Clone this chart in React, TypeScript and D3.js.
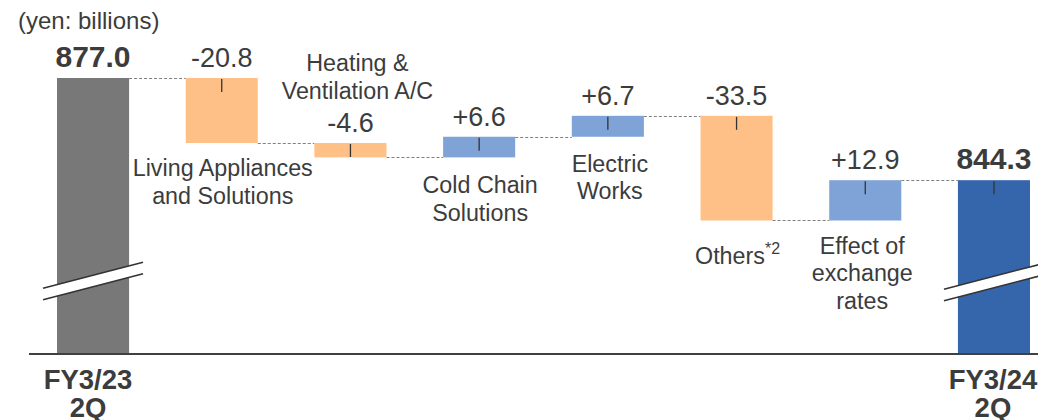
import React from "react";
import * as d3 from "d3";

const categories = [
  "FY3/23 2Q",
  "Living Appliances and Solutions",
  "Heating & Ventilation A/C",
  "Cold Chain Solutions",
  "Electric Works",
  "Others",
  "Effect of exchange rates",
  "FY3/24 2Q",
];
const startValue = 877.0;
const deltas = [-20.8, -4.6, 6.6, 6.7, -33.5, 12.9];
const endValue = 844.3;
const valueLabels = ["877.0", "-20.8", "-4.6", "+6.6", "+6.7", "-33.5", "+12.9", "844.3"];
const categoryLines: string[][] = [
  ["FY3/23", "2Q"],
  ["Living Appliances", "and Solutions"],
  ["Heating &", "Ventilation A/C"],
  ["Cold Chain", "Solutions"],
  ["Electric", "Works"],
  ["Others"],
  ["Effect of", "exchange", "rates"],
  ["FY3/24", "2Q"],
];
const unitLabel = "(yen: billions)";
const othersNote = "*2";

const W = 1038;
const H = 420;
const FONT = "'Liberation Sans', Arial, Helvetica, sans-serif";
const TEXT = "#3c3c3c";

type Bar = { key: string; lo: number; hi: number; kind: "total" | "neg" | "pos" | "end"; after: number };

export default function App() {
  const bars: Bar[] = [];
  bars.push({ key: categories[0], lo: 789, hi: startValue, kind: "total", after: startValue });
  let run = startValue;
  deltas.forEach((d, i) => {
    const next = run + d;
    bars.push({
      key: categories[i + 1],
      lo: Math.min(run, next),
      hi: Math.max(run, next),
      kind: d < 0 ? "neg" : "pos",
      after: next,
    });
    run = next;
  });
  bars.push({ key: categories[7], lo: 789, hi: endValue, kind: "end", after: endValue });

  const x = d3.scaleBand<string>().domain(categories).range([57, 1030]).paddingInner(0.44).paddingOuter(0);
  const y = d3.scaleLinear().domain([789, 877]).range([353, 78]);
  const bw = x.bandwidth();
  const color = { total: "#787878", neg: "#FFC088", pos: "#7FA3D7", end: "#3566AB" } as const;

  const layout: { dx: number; mode: "below" | "above" | "axis"; off: number }[] = [
    { dx: -5, mode: "axis", off: 35 },
    { dx: 1, mode: "below", off: 33 },
    { dx: 7, mode: "above", off: 72 },
    { dx: 1, mode: "below", off: 36 },
    { dx: 2, mode: "below", off: 35 },
    { dx: 1, mode: "below", off: 43 },
    { dx: -3, mode: "below", off: 33 },
    { dx: -1, mode: "axis", off: 35 },
  ];
  const lineH = 27.5;

  const breakMark = (cx: number, cy: number) => {
    const half = 50;
    const slope = -0.26;
    const gap = 11.5;
    const x0 = cx - half, x1 = cx + half;
    const y0 = cy - half * slope, y1 = cy + half * slope;
    return (
      <g>
        <polygon points={`${x0},${y0 - gap / 2} ${x1},${y1 - gap / 2} ${x1},${y1 + gap / 2} ${x0},${y0 + gap / 2}`} fill="#fff" />
        <line x1={x0} y1={y0 - gap / 2} x2={x1} y2={y1 - gap / 2} stroke="#333" strokeWidth={1.6} />
        <line x1={x0} y1={y0 + gap / 2} x2={x1} y2={y1 + gap / 2} stroke="#333" strokeWidth={1.6} />
      </g>
    );
  };

  return (
    <svg width={W} height={H} style={{ position: "absolute", left: 0, top: 0, background: "#fff" }} fontFamily={FONT}>
      <text x={18} y={29} fontSize={24} fill={TEXT}>{unitLabel}</text>
      {bars.slice(0, -1).map((b, i) => {
        const x1 = (x(b.key) as number) + bw;
        const x2 = x(bars[i + 1].key) as number;
        const yy = Math.round(y(b.after)) + 0.5;
        return <line key={"c" + i} x1={x1} x2={x2} y1={yy} y2={yy} stroke="#7f7f7f" strokeWidth={1} strokeDasharray="3,2" />;
      })}
      {bars.map((b, i) => {
        const x0 = x(b.key) as number;
        const cx = x0 + bw / 2;
        const yt = y(b.hi);
        const yb = y(b.lo);
        const isTotal = b.kind === "total" || b.kind === "end";
        return (
          <g key={b.key}>
            <rect x={x0} y={yt} width={bw} height={yb - yt} fill={color[b.kind]} />
            {b.kind !== "total" && (
              <line x1={cx} x2={cx} y1={yt + 1} y2={yt + 14} stroke="#333" strokeWidth={1.3} />
            )}
            <text
              x={cx}
              y={yt - 11}
              textAnchor="middle"
              fontSize={isTotal ? 30 : 27}
              fontWeight={isTotal ? "bold" : "normal"}
              fill={TEXT}
            >
              {valueLabels[i]}
            </text>
          </g>
        );
      })}
      {breakMark((x(categories[0]) as number) + bw / 2, 281)}
      {breakMark((x(categories[7]) as number) + bw / 2, 282)}
      <line x1={29} x2={W} y1={354} y2={354} stroke="#404040" strokeWidth={2} />
      {bars.map((b, i) => {
        const L = layout[i];
        const cx = (x(b.key) as number) + bw / 2 + L.dx;
        const lines = categoryLines[i];
        let base: number;
        if (L.mode === "axis") base = 354 + L.off;
        else if (L.mode === "below") base = y(b.lo) + L.off;
        else base = y(b.hi) - L.off;
        const bold = L.mode === "axis";
        return (
          <text key={"l" + i} textAnchor="middle" fontSize={bold ? 27.5 : 23.3} fontWeight={bold ? "bold" : "normal"} fill={TEXT}>
            {lines.map((s, j) => (
              <tspan key={j} x={cx} y={base + j * (bold ? 28 : lineH)}>
                {s}
                {i === 5 && j === 0 ? (
                  <tspan fontSize={16} dy={-10}>{othersNote}</tspan>
                ) : null}
              </tspan>
            ))}
          </text>
        );
      })}
    </svg>
  );
}
